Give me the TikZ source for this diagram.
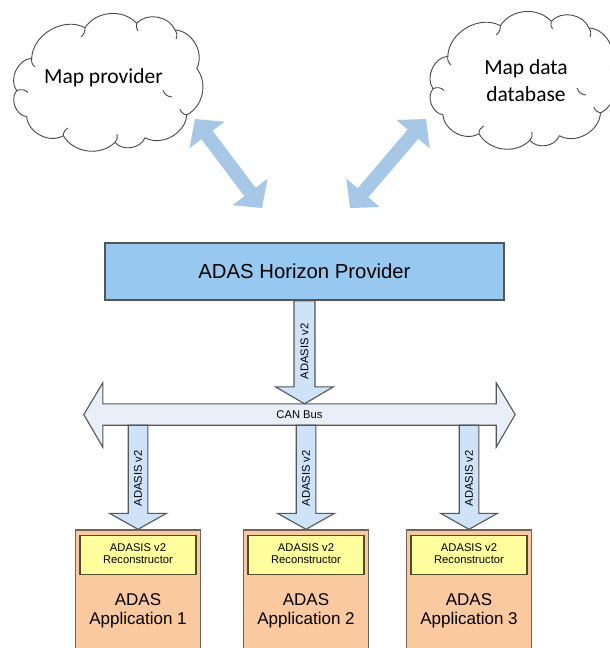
\documentclass[tikz,border=0pt]{standalone}
\usepackage{fontspec}
\setmainfont{Liberation Sans}
\newfontfamily\cloudfont{Carlito}
\usetikzlibrary{calc}

\definecolor{skyarrow}{RGB}{167,199,231}
\definecolor{hpfill}{RGB}{150,200,240}
\definecolor{pipefill}{RGB}{206,227,247}
\definecolor{busfill}{RGB}{233,239,249}
\definecolor{appfill}{RGB}{250,201,160}
\definecolor{recfill}{RGB}{255,255,158}
\definecolor{edge}{RGB}{85,85,85}
\definecolor{recedge}{RGB}{80,75,40}
\definecolor{appedge}{RGB}{115,100,90}

% wide double-headed block arrow between two named coordinates
% #1 start, #2 end, #3 shaft half width, #4 head half width, #5 head length, #6 style
\newcommand\blockdbl[6]{%
  \coordinate (#1-#2-a) at ($(#1)!#5!(#2)$);
  \coordinate (#1-#2-b) at ($(#2)!#5!(#1)$);
  \path[#6] (#1) -- ($(#1-#2-a)!#4!90:(#2)$) -- ($(#1-#2-a)!#3!90:(#2)$)
    -- ($(#1-#2-b)!#3!-90:(#1)$) -- ($(#1-#2-b)!#4!-90:(#1)$) -- (#2)
    -- ($(#1-#2-b)!#4!90:(#1)$) -- ($(#1-#2-b)!#3!90:(#1)$)
    -- ($(#1-#2-a)!#3!-90:(#2)$) -- ($(#1-#2-a)!#4!-90:(#2)$) -- cycle;
}
% single-headed block arrow: #1 start, #2 tip, #3 shaft half width,
% #4 head half width, #5 head length, #6 style
\newcommand\blockone[6]{%
  \coordinate (#2-h) at ($(#2)!#5!(#1)$);
  \path[#6] ($(#1)!#3!90:(#2)$) -- ($(#2-h)!#3!90:(#2)$) -- ($(#2-h)!#4!90:(#2)$)
    -- (#2) -- ($(#2-h)!#4!-90:(#2)$) -- ($(#2-h)!#3!-90:(#2)$)
    -- ($(#1)!#3!-90:(#2)$) -- cycle;
}

\tikzset{
  cloudline/.style={draw=black!72, line width=0.9pt, line join=round},
  % puffy cloud outline, drawn around its centre
  puffcloud/.pic={
    \path[cloudline, fill=white]
      (-74.3,-26.7) to[bend right=62] (-89.3,5.7)
      to[bend right=62] (-79.3,31.7)
      to[bend right=58] (-42.7,50.7)
      to[bend right=52] (9,57.3)
      to[bend right=60] (39,52.7)
      to[bend right=58] (80.7,30)
      to[bend right=50] (90.7,-16.7)
      to[bend right=58] (69,-55)
      to[bend right=58] (30.7,-61.7)
      to[bend right=52] (-21,-57.3)
      to[bend right=58] (-74.3,-26.7) -- cycle;
    % inner arcs where the puffs meet
    \path[cloudline] (-89.3,5.7) to[bend left=35] (-78,7.5);
    \path[cloudline] (-42.7,50.7) to[bend left=30] (-38,43);
    \path[cloudline] (9,57.3) to[bend right=30] (11,49);
    \path[cloudline] (80.7,30) to[bend left=30] (74,24);
    \path[cloudline] (57,5) to[bend right=35] (66,12);
    \path[cloudline] (69,-55) to[bend left=30] (70,-46);
    \path[cloudline] (30.7,-61.7) to[bend right=25] (32,-54);
    \path[cloudline] (-21,-57.3) to[bend left=25] (-25,-48);
    \path[cloudline] (-74.3,-26.7) to[bend right=30] (-71,-18);
  },
  cloudtext/.style={font=\cloudfont\fontsize{21.5}{27}\selectfont, align=center, inner sep=0pt},
  hpbox/.style={draw=edge, line width=1.4pt, fill=hpfill, inner sep=0pt},
  appbox/.style={draw=appedge, line width=1.4pt, fill=appfill, inner sep=0pt,
    minimum width=125pt, minimum height=130pt},
  recbox/.style={draw=recedge, line width=1.4pt, fill=recfill, inner sep=0pt,
    minimum width=116pt, minimum height=39pt},
  pipe/.style={draw=edge, line width=1.1pt, fill=pipefill, line join=miter},
  bigarrow/.style={fill=skyarrow},
  small/.style={font=\fontsize{11.2}{12.5}\selectfont, inner sep=0pt, align=center},
  apptext/.style={font=\fontsize{17}{19}\selectfont, inner sep=0pt, align=center},
}

\begin{document}
\begin{tikzpicture}[x=1pt, y=-1pt]
\clip (0,0) rectangle (610,648);
\fill[white] (0,0) rectangle (610,648);

% data sources
\pic at (106,85) {puffcloud};
\node[cloudtext, anchor=base] (mapprov) at (103.5,83) {Map provider};
\pic[xscale=0.985] at (521,83) {puffcloud};
\node[cloudtext] (mapdb) at (526,81) {Map data\\database};

% horizon provider
\node[hpbox, minimum width=399pt, minimum height=57pt] (hp) at (304.5,271.5)
  {\fontsize{20.3}{24}\selectfont ADAS Horizon Provider};

% links between the sources and the provider
\coordinate (provend) at (195,119);
\coordinate (hpleft) at (262,208);
\coordinate (dbend) at (426,119);
\coordinate (hpright) at (350,208);
\blockdbl{provend}{hpleft}{7pt}{22pt}{20pt}{bigarrow}
\blockdbl{dbend}{hpright}{7pt}{22pt}{20pt}{bigarrow}

% CAN bus
\node[inner sep=0pt, minimum width=393pt, minimum height=21pt] (bus) at (299.5,414.5) {};
\path[pipe, fill=busfill] (bus.north west) -- (bus.north east) -- ++(0,-21)
  -- ($(bus.east)+(19,0)$) -- ($(bus.south east)+(0,22)$) -- (bus.south east)
  -- (bus.south west) -- ++(0,22) -- ($(bus.west)+(-19,0)$)
  -- ($(bus.north west)+(0,-21)$) -- cycle;
\node[small] (buslbl) at (bus.center) {CAN Bus};

% applications
\node[appbox] (app1) at (138,595) {};
\node[appbox] (app2) at (306,595) {};
\node[appbox] (app3) at (469,595) {};
\foreach \i in {1,2,3} {
  \node[recbox] (rec\i) at ($(app\i.north)+(0,25.5)$) {};
  \node[small] (rectxt\i) at ($(rec\i.center)+(0,-1)$) {ADASIS v2\\Reconstructor};
  \node[apptext] (apptxt\i) at ($(app\i.north)+(0,82)$) {ADAS\\Application \i};
}

% provider to bus
\coordinate (hpout) at (hp.south);
\coordinate (busin) at (hp.south |- bus.north);
\blockone{hpout}{busin}{10.5pt}{29pt}{17pt}{pipe}
\node[small, rotate=90] (lbltop) at ($(hpout)!0.5!(busin)+(0,-1)$) {ADASIS v2};

% bus to applications
\foreach \i in {1,2,3} {
  \coordinate (busout\i) at (app\i.north |- bus.south);
  \coordinate (appin\i) at (app\i.north);
  \blockone{busout\i}{appin\i}{9.8pt}{28.5pt}{16pt}{pipe}
  \node[small, rotate=90] (lbl\i) at ($(busout\i)+(0,53)$) {ADASIS v2};
}
\end{tikzpicture}
\end{document}
